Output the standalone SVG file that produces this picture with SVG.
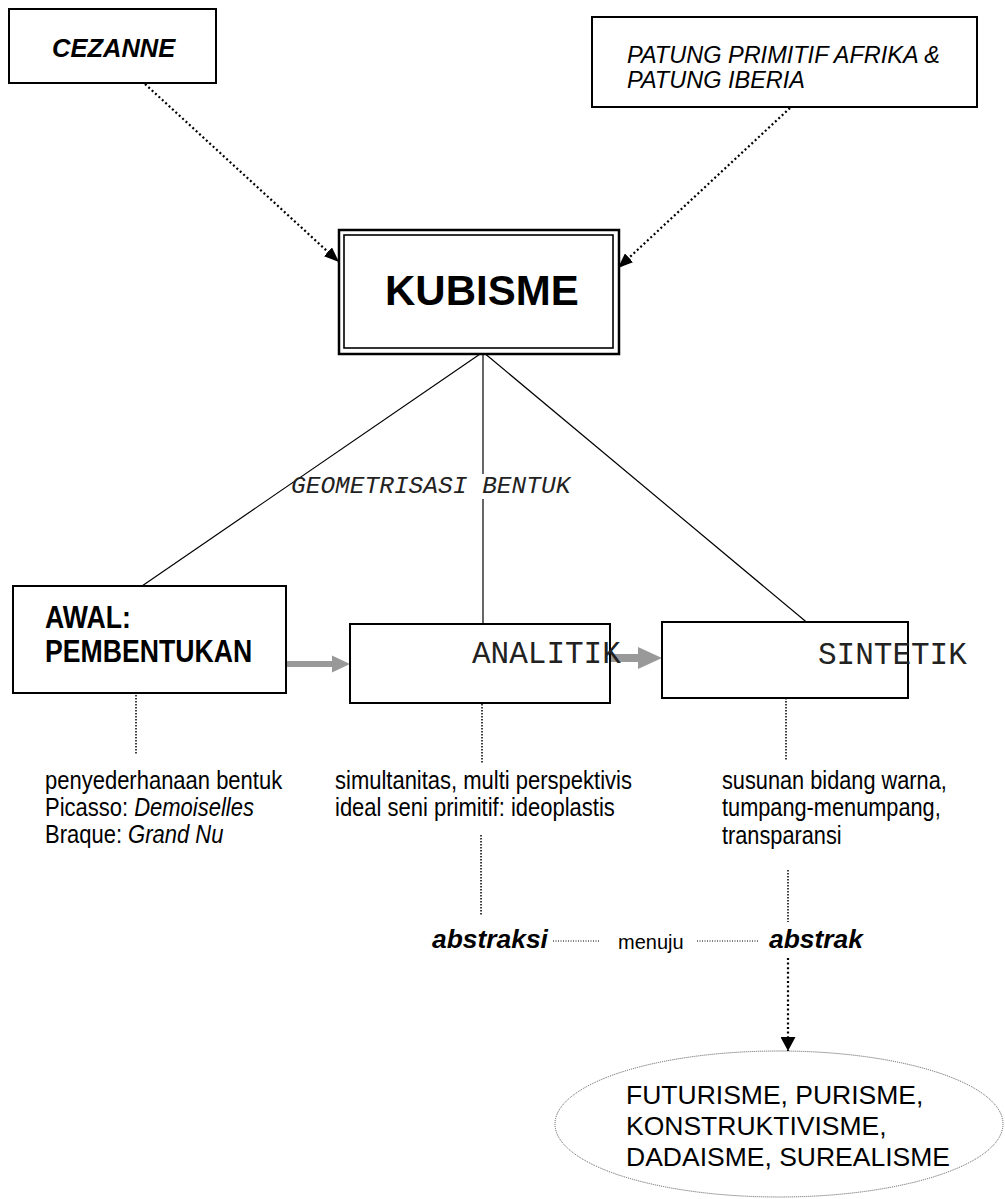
<svg xmlns="http://www.w3.org/2000/svg" width="1005" height="1199" viewBox="0 0 1005 1199">
<defs>
<style>
.box{fill:#fff;stroke:#000;stroke-width:2}
.sans{font-family:"Liberation Sans",Arial,sans-serif;fill:#000}
.mono{font-family:"Liberation Mono","Courier New",monospace;fill:#222}
.dotb{stroke:#000;stroke-width:2.2;stroke-dasharray:2 2.6;fill:none}
.dott{stroke:#000;stroke-width:1.5;stroke-dasharray:1.5 1.5;fill:none}
.thin{stroke:#000;stroke-width:1.2;fill:none}
.gray{fill:#999}
.narrow{font-size:25px}
</style>
<marker id="ah" viewBox="0 0 15 12" refX="15" refY="6" markerWidth="15" markerHeight="12" markerUnits="userSpaceOnUse" orient="auto">
<path d="M0,0 L15,6 L0,12 Z" fill="#000"/>
</marker>
<marker id="ah2" viewBox="0 0 14 15" refX="14" refY="7.5" markerWidth="14" markerHeight="15" markerUnits="userSpaceOnUse" orient="auto">
<path d="M0,0 L14,7.5 L0,15 Z" fill="#000"/>
</marker>
</defs>
<rect width="1005" height="1199" fill="#fff"/>

<g id="connectors">
<line class="dotb" x1="145" y1="84" x2="339" y2="262" marker-end="url(#ah)"/>
<line class="dotb" x1="790" y1="108" x2="618" y2="268" marker-end="url(#ah)"/>
<line class="thin" x1="483" y1="352" x2="142" y2="586"/>
<line class="thin" x1="483" y1="352" x2="483" y2="474" stroke="#333"/>
<line class="thin" x1="483" y1="499" x2="483" y2="624" stroke="#333"/>
<line class="thin" x1="483" y1="352" x2="810" y2="625"/>
<line class="dott" x1="136" y1="686" x2="136" y2="755"/>
<line class="dott" x1="482" y1="692" x2="482" y2="763"/>
<line class="dott" x1="786" y1="689" x2="786" y2="760"/>
<line class="dott" x1="481" y1="835" x2="481" y2="915"/>
<line class="dott" x1="788" y1="870" x2="788" y2="922"/>
<line stroke="#000" stroke-width="1" stroke-dasharray="1 1.5" x1="553" y1="941" x2="600" y2="941"/>
<line stroke="#000" stroke-width="1" stroke-dasharray="1 1.5" x1="697" y1="941" x2="758" y2="941"/>
<line class="dotb" x1="788" y1="958" x2="788" y2="1051" marker-end="url(#ah2)"/>
<polygon class="gray" points="287,661 332,661 332,655.5 350,664 332,672.5 332,667 287,667"/>
<polygon class="gray" points="610,654 638,654 638,647 662,658 638,669 638,662 610,662"/>
</g>

<g id="cezanne">
<rect class="box" x="9" y="9" width="207" height="74"/>
<text class="sans" x="52" y="57" font-size="25.5" font-weight="bold" font-style="italic">CEZANNE</text>
</g>

<g id="patung">
<rect class="box" x="592" y="17" width="385" height="90"/>
<text class="sans" font-size="23.5" font-style="italic"><tspan x="627" y="63">PATUNG PRIMITIF AFRIKA &amp;</tspan><tspan x="627" y="88">PATUNG IBERIA</tspan></text>
</g>

<g id="kubisme">
<rect x="339" y="230" width="280" height="124" fill="#fff" stroke="#000" stroke-width="2.5"/>
<rect x="344" y="235" width="269" height="113" fill="none" stroke="#000" stroke-width="1.6"/>
<text class="sans" x="385" y="305" font-size="42" font-weight="bold">KUBISME</text>
</g>

<g id="geometrisasi">
<text class="mono" x="291" y="493" font-size="24.5" font-style="italic">GEOMETRISASI BENTUK</text>
</g>

<g id="awal">
<rect class="box" x="13" y="586" width="273" height="107"/>
<g transform="translate(45,0) scale(0.86,1)">
<text class="sans" font-size="31" font-weight="bold"><tspan x="0" y="628">AWAL:</tspan><tspan x="0" y="662">PEMBENTUKAN</tspan></text>
</g>
</g>

<g id="analitik">
<rect class="box" x="350" y="624" width="260" height="79"/>
<text class="mono" x="472" y="663" font-size="31">ANALITIK</text>
</g>

<g id="sintetik">
<rect class="box" x="662" y="622" width="246" height="76"/>
<text class="mono" x="818" y="664" font-size="31">SINTETIK</text>
</g>

<g id="awal-desc" transform="translate(45,0) scale(0.88,1)">
<text class="sans narrow"><tspan x="0" y="789">penyederhanaan bentuk</tspan><tspan x="0" y="816">Picasso: <tspan font-style="italic">Demoiselles</tspan></tspan><tspan x="0" y="843">Braque: <tspan font-style="italic">Grand Nu</tspan></tspan></text>
</g>

<g id="analitik-desc" transform="translate(335,0) scale(0.88,1)">
<text class="sans narrow"><tspan x="0" y="789">simultanitas, multi perspektivis</tspan><tspan x="0" y="816">ideal seni primitif: ideoplastis</tspan></text>
</g>

<g id="sintetik-desc" transform="translate(722,0) scale(0.87,1)">
<text class="sans narrow"><tspan x="0" y="789">susunan bidang warna,</tspan><tspan x="0" y="816">tumpang-menumpang,</tspan><tspan x="0" y="844">transparansi</tspan></text>
</g>

<g id="abstraksi">
<text class="sans" x="432" y="948" font-size="26.4" font-weight="bold" font-style="italic">abstraksi</text>
</g>
<g id="menuju">
<text class="sans" x="618" y="949" font-size="20">menuju</text>
</g>
<g id="abstrak">
<text class="sans" x="769" y="948" font-size="26.4" font-weight="bold" font-style="italic">abstrak</text>
</g>

<g id="aliran">
<ellipse cx="779" cy="1124" rx="224" ry="73" fill="#fff" stroke="#555" stroke-width="1" stroke-dasharray="1 1"/>
<text class="sans" font-size="26.5"><tspan x="626" y="1104">FUTURISME, PURISME,</tspan><tspan x="626" y="1135">KONSTRUKTIVISME,</tspan><tspan x="626" y="1166">DADAISME, SUREALISME</tspan></text>
</g>
</svg>
